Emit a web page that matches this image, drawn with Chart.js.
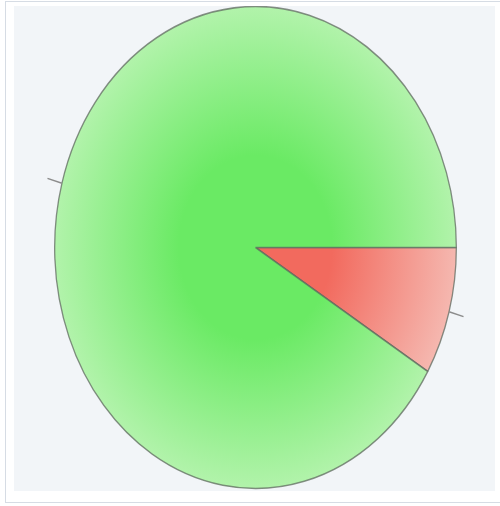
<!DOCTYPE html>
<html>
<head>
<meta charset="utf-8">
<script src="https://cdn.jsdelivr.net/npm/chart.js@4"></script>
<style>
    body { margin: 0; background: #ffffff; }
    .frame {
        position: absolute; left: 5px; top: 1px; width: 496px; height: 502px;
        box-sizing: border-box; border: 1.5px solid #d6dce4;
    }
    .plot {
        position: absolute; left: 14px; top: 6px; width: 481px; height: 485px;
        background: #f2f5f8;
    }
</style>
</head>
<body>
<div class="frame"></div>
<div class="plot"><canvas id="pie" width="481" height="485"></canvas></div>
<script>
const labels = ['Slice A', 'Slice B'];
const values = [8.6, 91.4];
const innerColors = ['#f26a5e', '#6aea64'];
const outerColors = ['#f5b8b0', '#b2f3ab'];

// the pie is drawn as a circle and then stretched vertically into an ellipse
const stretchY = 1.2;

const radialFill = (context) => {
    const chart = context.chart;
    const area = chart.chartArea;
    if (!area) return innerColors[context.dataIndex];
    const cx = (area.left + area.right) / 2;
    const cy = (area.top + area.bottom) / 2;
    const r = Math.min(area.right - area.left, area.bottom - area.top) / 2;
    const g = chart.ctx.createRadialGradient(cx, cy, 0, cx, cy, r);
    g.addColorStop(0, innerColors[context.dataIndex]);
    g.addColorStop(0.38, innerColors[context.dataIndex]);
    g.addColorStop(1, outerColors[context.dataIndex]);
    return g;
}

const ellipsePlugin = {
    id: 'ellipse',
    beforeDatasetsDraw(chart) {
        const arc = chart.getDatasetMeta(0).data[0];
        const ctx = chart.ctx;
        ctx.save();
        ctx.translate(arc.x, arc.y);
        ctx.scale(1, stretchY);
        ctx.translate(-arc.x, -arc.y);
    },
    afterDatasetsDraw(chart) {
        const ctx = chart.ctx;
        ctx.restore();

        // short connector lines, no label text
        ctx.save();
        ctx.strokeStyle = '#8c8c8c';
        ctx.lineWidth = 1.5;
        chart.getDatasetMeta(0).data.forEach(arc => {
            const mid = (arc.startAngle + arc.endAngle) / 2;
            const r = arc.outerRadius;
            ctx.beginPath();
            ctx.moveTo(arc.x + Math.cos(mid) * r, arc.y + Math.sin(mid) * r * stretchY);
            ctx.lineTo(arc.x + Math.cos(mid) * (r + 15), arc.y + Math.sin(mid) * (r + 15) * stretchY);
            ctx.stroke();
        });
        ctx.restore();
    }
}

new Chart(document.getElementById('pie'), {
    type: 'pie',
    data: {
        labels: labels,
        datasets: [{
            data: values,
            backgroundColor: radialFill,
            borderColor: 'rgba(95, 105, 95, 0.75)',
            borderWidth: 1.3,
            hoverOffset: 0
        }]
    },
    options: {
        responsive: false,
        animation: false,
        rotation: 90,
        layout: { padding: { left: 40, right: 38, top: 40, bottom: 42 } },
        plugins: {
            legend: { display: false },
            tooltip: { enabled: false }
        },
        events: []
    },
    plugins: [ellipsePlugin]
});
</script>
</body>
</html>
